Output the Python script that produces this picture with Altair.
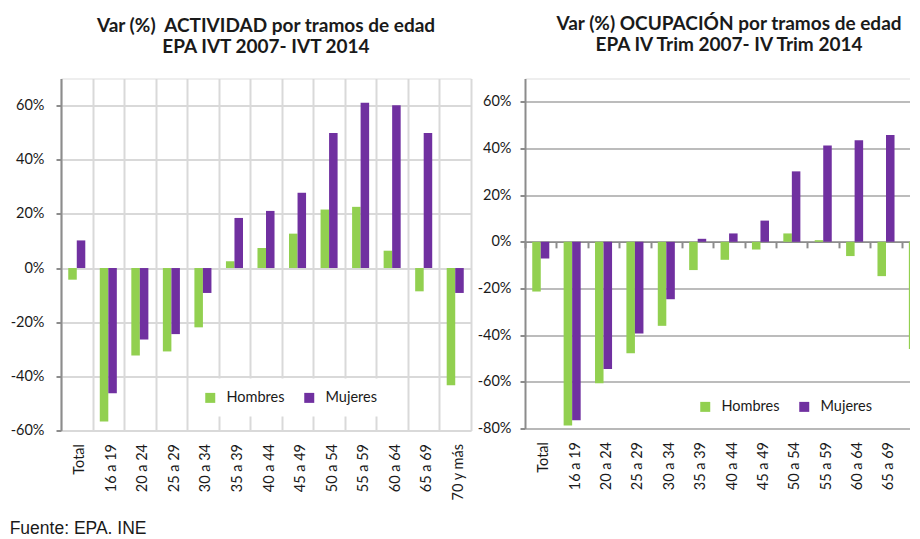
import altair as alt
import pandas as pd

# ---- data ----
cats = ["Total", "16 a 19", "20 a 24", "25 a 29", "30 a 34", "35 a 39", "40 a 44",
        "45 a 49", "50 a 54", "55 a 59", "60 a 64", "65 a 69", "70 y más"]
sexos = ["Hombres", "Mujeres"]

act_hombres = [-4.3, -56.7, -32.3, -30.8, -21.9, 2.5, 7.4, 12.7, 21.6, 22.6, 6.4, -8.6, -43.3]
act_mujeres = [10.2, -46.2, -26.4, -24.4, -9.2, 18.5, 21.1, 27.8, 49.9, 61.0, 60.1, 49.9, -9.2]

ocu_hombres = [-21.3, -78.7, -60.6, -47.8, -36.0, -12.1, -7.7, -3.3, 3.6, 0.7, -6.1, -14.7, -45.9]
ocu_mujeres = [-7.1, -76.5, -54.5, -39.3, -24.6, 1.3, 3.6, 9.1, 30.2, 41.3, 43.5, 45.8, -7.7]

act_ticks = [-60, -40, -20, 0, 20, 40, 60]
ocu_ticks = [-80, -60, -40, -20, 0, 20, 40, 60]


def make_df(h, m):
    rows = []
    for c, vh, vm in zip(cats, h, m):
        rows.append({"tramo": c, "sexo": "Hombres", "var": vh})
        rows.append({"tramo": c, "sexo": "Mujeres", "var": vm})
    return pd.DataFrame(rows)


df_act = make_df(act_hombres, act_mujeres)
df_ocu = make_df(ocu_hombres, ocu_mujeres)

FONT = "Lato"
TXT = "#1a1a1a"
GREEN = "#92d050"
PURPLE = "#7030a0"


def panel(df, title, lo, hi, ticks, w, h, light_grid, leg_x, leg_y, pad_outer, t_off):
    zero_y = h * hi / (hi - lo)
    off = -(h - zero_y)
    if light_grid:
        x_axis = alt.Axis(labelAngle=-90, tickBand="extent", grid=True, gridColor="#d9d9d9",
                          gridWidth=2, domain=False, ticks=False, offset=off,
                          labelPadding=-off + 13, labelOffset=3, labelFont=FONT,
                          labelFontSize=14.5, labelColor=TXT)
        y_grid = dict(gridColor="#d9d9d9", gridWidth=2)
        lab_pad = 12
    else:
        x_axis = alt.Axis(labelAngle=-90, tickBand="extent", grid=False, domain=True,
                          domainColor="#8c8c8c", domainWidth=1.5, ticks=True, tickSize=6,
                          tickColor="#8c8c8c", tickWidth=2, offset=off,
                          labelPadding=-off - 6 + 13, labelOffset=3, labelFont=FONT,
                          labelFontSize=14.5, labelColor=TXT)
        y_grid = dict(gridColor="#a6a6a6", gridWidth=1.5)
        lab_pad = 9
    y_axis = alt.Axis(values=ticks, labelExpr="datum.value + '%'", grid=True,
                      domainColor="#8c8c8c", domainWidth=2, tickColor="#8c8c8c",
                      tickWidth=2, tickSize=5, labelPadding=lab_pad, labelFont=FONT,
                      labelFontSize=14.5, labelColor=TXT, **y_grid)
    return alt.Chart(df).mark_bar().encode(
        x=alt.X("tramo:N", sort=cats, title=None,
                scale=alt.Scale(paddingInner=0, paddingOuter=0), axis=x_axis),
        xOffset=alt.XOffset("sexo:N", sort=sexos,
                            scale=alt.Scale(paddingInner=0, paddingOuter=pad_outer)),
        y=alt.Y("var:Q", title=None, axis=y_axis,
                scale=alt.Scale(domain=[lo, hi], nice=False, zero=False)),
        color=alt.Color("sexo:N", sort=sexos,
                        scale=alt.Scale(domain=sexos, range=[GREEN, PURPLE]),
                        legend=alt.Legend(title=None, orient="none", direction="horizontal",
                                          legendX=leg_x, legendY=leg_y, fillColor="white",
                                          padding=12, symbolType="square", symbolSize=100,
                                          symbolStrokeWidth=0, labelFont=FONT,
                                          labelFontSize=14.5, labelColor=TXT,
                                          labelOffset=9, columnPadding=17)),
    ).properties(
        width=w, height=h,
        title=alt.TitleParams(title, font=FONT, fontSize=19, fontWeight="bold", color=TXT,
                              anchor="middle", lineHeight=21, offset=t_off),
    )


left = panel(df_act, ["Var (%)\u00a0 ACTIVIDAD por tramos de edad", "EPA IVT 2007- IVT 2014"],
             -60, 70, act_ticks, 410, 352, True, 130, 300, 0.85, 22)
right = panel(df_ocu, ["Var (%) OCUPACIÓN por tramos de edad", "EPA IV Trim 2007- IV Trim 2014"],
              -80, 70, ocu_ticks, 408, 350, False, 161, 309, 0.7, 24)

chart = alt.hconcat(left, right, spacing=4).resolve_legend(color="independent").properties(
    title=alt.TitleParams("Fuente: EPA. INE", orient="bottom", anchor="start",
                          font="Liberation Sans", fontSize=17.5, fontWeight="normal",
                          color=TXT, offset=19),
    padding={"left": 1, "top": 5.5, "right": -25, "bottom": 0},
).configure_view(strokeWidth=0).configure(background="white")

chart.save("out.html", embed_options={"renderer": "svg", "actions": False})
